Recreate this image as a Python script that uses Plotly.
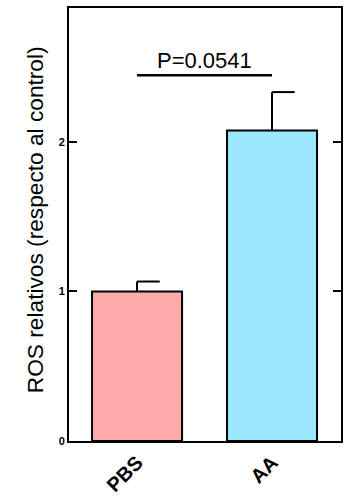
import plotly.graph_objects as go

categories = ["PBS", "AA"]
means = [1.0, 2.076]
errors = [0.066, 0.256]
colors = ["#FFABAB", "#99E6FD"]
y_ticks = [0, 1, 2]
p_text = "P=0.0541"
sig_y = 2.444

xpos = list(range(len(categories)))
cap = 0.168
FONT = "Liberation Sans, Arial"

fig = go.Figure()
fig.add_trace(go.Bar(
    x=xpos, y=means, width=0.667,
    marker=dict(color=colors, line=dict(color="black", width=2)),
    showlegend=False, hoverinfo="skip",
))

ex, ey = [], []
for x, m, e in zip(xpos, means, errors):
    ex += [x, x, None, x, x + cap, None]
    ey += [m, m + e, None, m + e, m + e, None]
fig.add_trace(go.Scatter(x=ex, y=ey, mode="lines",
                         line=dict(color="black", width=2),
                         showlegend=False, hoverinfo="skip"))

fig.add_trace(go.Scatter(x=[xpos[0], xpos[1]], y=[sig_y, sig_y], mode="lines",
                         line=dict(color="black", width=2.5),
                         showlegend=False, hoverinfo="skip"))
fig.add_annotation(x=(xpos[0] + xpos[1]) / 2, y=sig_y, text=p_text,
                   showarrow=False, yanchor="bottom", yshift=0,
                   font=dict(family=FONT, size=22, color="black"))

fig.add_annotation(xref="paper", yref="paper", x=-0.125, y=0.51,
                   text="ROS relativos (respecto al control)", textangle=-90,
                   showarrow=False, xanchor="center", yanchor="middle",
                   font=dict(family=FONT, size=22.7, color="black"))

fig.update_layout(
    width=344, height=497,
    margin=dict(l=69, r=3, t=8, b=56),
    paper_bgcolor="white", plot_bgcolor="white",
    font=dict(family=FONT, color="black"),
)
fig.update_xaxes(
    range=[-0.504, 1.511], automargin=False,
    tickmode="array", tickvals=xpos, ticktext=categories,
    tickangle=-45, ticks="",
    tickfont=dict(family=FONT, size=20, color="black", weight="bold"),
    showline=True, linecolor="black", linewidth=2, mirror=True,
    showgrid=False, zeroline=False,
)
fig.update_yaxes(
    range=[0, 2.894], automargin=False,
    tickmode="array", tickvals=y_ticks, ticktext=[str(v) for v in y_ticks],
    ticks="inside", ticklen=8, tickwidth=1.5, tickcolor="black",
    tickfont=dict(family=FONT, size=11, color="black", weight="bold"),
    showline=True, linecolor="black", linewidth=2, mirror="ticks",
    showgrid=False, zeroline=False,
)

fig.write_html("out.html", config={"displayModeBar": False},
               post_script="document.body.style.margin='0';")
